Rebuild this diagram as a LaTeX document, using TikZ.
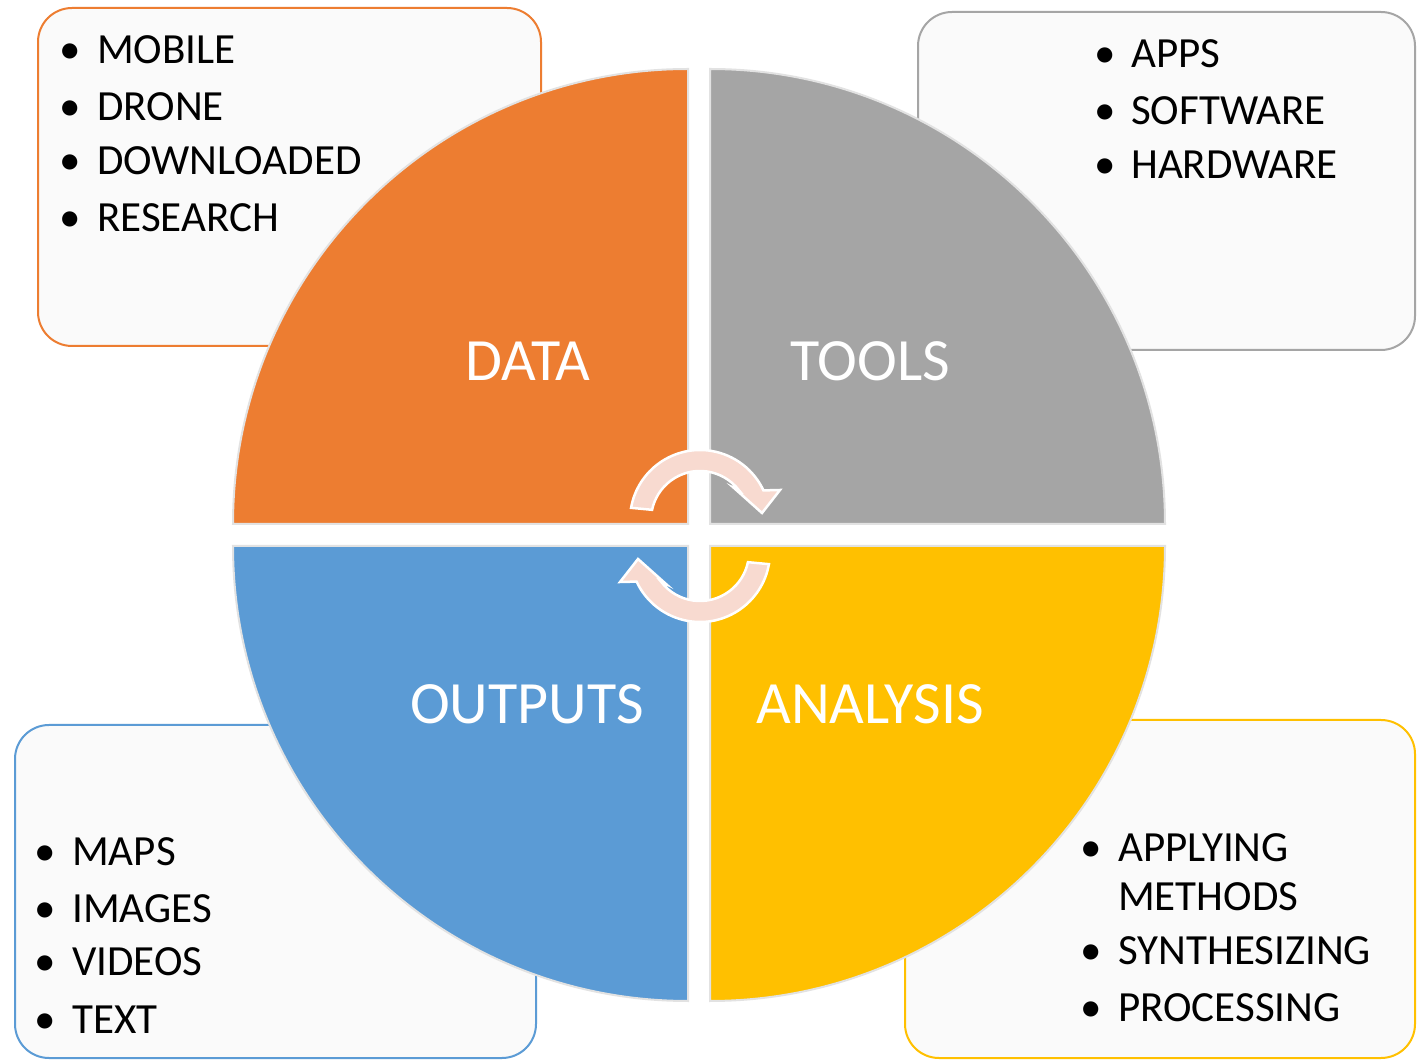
\documentclass[tikz,border=0pt]{standalone}
\usepackage{fontspec}
\setmainfont{Carlito}
\usetikzlibrary{calc}
\definecolor{qorange}{HTML}{ED7D31}
\definecolor{qgray}{HTML}{A5A5A5}
\definecolor{qblue}{HTML}{5B9BD5}
\definecolor{qyellow}{HTML}{FFC000}
\definecolor{boxfill}{HTML}{FAFAFA}
\definecolor{arrowfill}{HTML}{F8DAD0}
\definecolor{edgegray}{HTML}{E2E2E2}
\begin{document}
\begin{tikzpicture}[x=1pt,y=1pt,
  listbox/.style={fill=boxfill, line width=2pt, rounded corners=34pt},
  quad/.style={draw=edgegray, line width=2pt},
  item/.style={anchor=base west, inner sep=0pt, font=\fontsize{43}{52}\selectfont, text=black},
  bul/.style={anchor=base, inner sep=0pt, font=\fontsize{43}{52}\selectfont, text=black},
  qlabel/.style={anchor=base, inner sep=0pt, font=\fontsize{60}{72}\selectfont, text=white},
  cyc/.style={fill=arrowfill, draw=white, line width=2.5pt, line join=miter}]
\useasboundingbox[fill=white] (0,0) rectangle (1417,1061);

% list boxes
\draw[listbox, draw=qorange] (38,715) rectangle (541,1053);
\draw[listbox, draw=qgray] (918,711) rectangle (1415,1049);
\draw[listbox, draw=qblue] (15,3) rectangle (536,336);
\draw[listbox, draw=qyellow] (905,3) rectangle (1415,341);

% quadrants
\filldraw[quad, fill=qorange] (688,537) -- (233,537) arc[start angle=180, end angle=90, radius=455] -- cycle;
\filldraw[quad, fill=qgray] (710,537) -- (710,992) arc[start angle=90, end angle=0, radius=455] -- cycle;
\filldraw[quad, fill=qblue] (688,515) -- (233,515) arc[start angle=180, end angle=270, radius=455] -- cycle;
\filldraw[quad, fill=qyellow] (710,515) -- (1165,515) arc[start angle=0, end angle=-90, radius=455] -- cycle;

% cycle arrows
\coordinate (ct) at (700,541);
\coordinate (cb) at (700,509);
\coordinate (tipT) at (762,548);
\coordinate (tipB) at (638,502);
\filldraw[cyc] ($(ct)+(170:70)$) arc[start angle=170, end angle=25, radius=70]
  -- (780,571) -- (tipT) -- (734,573) -- ($(ct)+(37:49)$)
  arc[start angle=37, end angle=168, radius=49] -- cycle;
\filldraw[cyc] ($(cb)+(350:70)$) arc[start angle=350, end angle=205, radius=70]
  -- (620,479) -- (tipB) -- (666,477) -- ($(cb)+(217:49)$)
  arc[start angle=217, end angle=348, radius=49] -- cycle;

% quadrant labels
\node[qlabel] (data) at (528,680) {DATA};
\node[qlabel] (tools) at (870,680) {TOOLS};
\node[qlabel] (outputs) at (527,337) {OUTPUTS};
\node[qlabel] (analysis) at (870,337) {ANALYSIS};

% data list
\node[bul] (db1) at (70,997) {•}; \node[item] (d1) at (97,997) {MOBILE};
\node[bul] (db2) at (70,940) {•}; \node[item] (d2) at (97,940) {DRONE};
\node[bul] (db3) at (70,886) {•}; \node[item] (d3) at (97,886) {DOWNLOADED};
\node[bul] (db4) at (70,829) {•}; \node[item] (d4) at (97,829) {RESEARCH};

% tools list
\node[bul] (tb1) at (1105,993) {•}; \node[item] (t1) at (1131,993) {APPS};
\node[bul] (tb2) at (1105,936) {•}; \node[item] (t2) at (1131,936) {SOFTWARE};
\node[bul] (tb3) at (1105,882) {•}; \node[item] (t3) at (1131,882) {HARDWARE};

% outputs list
\node[bul] (ob1) at (45,195) {•}; \node[item] (o1) at (72,195) {MAPS};
\node[bul] (ob2) at (45,139) {•}; \node[item] (o2) at (72,139) {IMAGES};
\node[bul] (ob3) at (45,85) {•}; \node[item] (o3) at (72,85) {VIDEOS};
\node[bul] (ob4) at (45,28) {•}; \node[item] (o4) at (72,28) {TEXT};

% analysis list
\node[bul] (ab1) at (1091,199) {•}; \node[item] (a1) at (1118,199) {APPLYING};
\node[item] (a1b) at (1118,150) {METHODS};
\node[bul] (ab2) at (1091,96) {•}; \node[item] (a2) at (1118,96) {SYNTHESIZING};
\node[bul] (ab3) at (1091,40) {•}; \node[item] (a3) at (1118,40) {PROCESSING};
\end{tikzpicture}
\end{document}
